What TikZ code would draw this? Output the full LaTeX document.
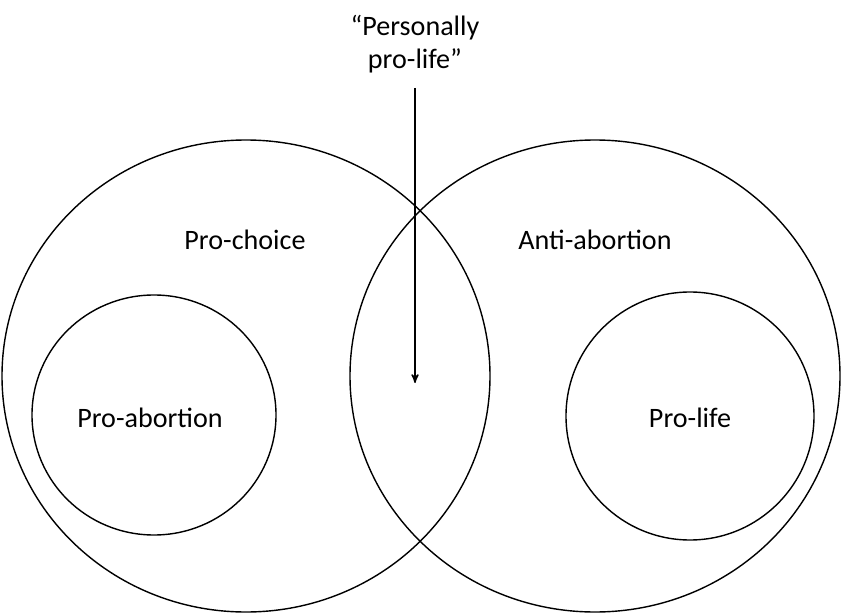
\documentclass[tikz,border=0pt]{standalone}
\usepackage{fontspec}
\setmainfont{Carlito}
\usetikzlibrary{arrows}

\begin{document}
\begin{tikzpicture}[x=0.02cm,y=-0.02cm,>=stealth',thick]
		\tikzstyle{label}=[font=\fontsize{16}{19}\selectfont,align=center]

		\useasboundingbox (0,0) rectangle (842,615);
		\draw (246,376) ellipse [x radius=244,y radius=236];
		\draw (595,376) ellipse [x radius=245,y radius=236];
		\draw (154,415) ellipse [x radius=122,y radius=120];
		\draw (690,416) ellipse [x radius=124,y radius=124];

		\node [label] (pc) at (245,240) {Pro-choice};
		\node [label] (aa) at (595,240) {Anti-abortion};
		\node [label] (pa) at (150,418) {Pro-abortion};
		\node [label] (pl) at (690,418) {Pro-life};
		\node [label] (ppl) at (415,44) {``Personally\\pro-life''};
		\coordinate (start) at (415,88);
		\coordinate (tip) at (415,383);
		\draw [->] (start) -- (tip);
	\end{tikzpicture}
\end{document}
